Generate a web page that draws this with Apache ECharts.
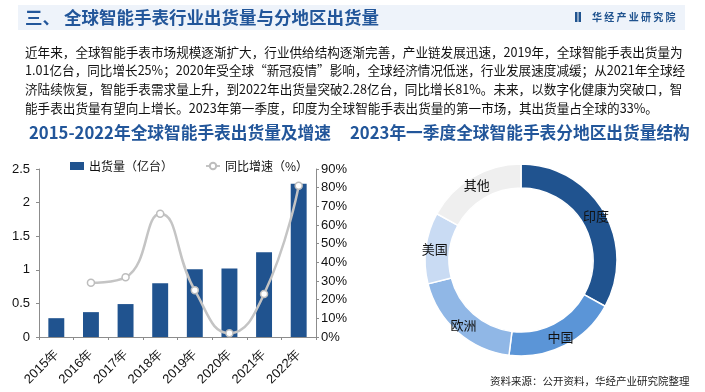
<!DOCTYPE html>
<html>
<head>
<meta charset="utf-8">
<script src="https://cdn.jsdelivr.net/npm/echarts@6/dist/echarts.min.js"></script>
<style>html,body{margin:0;padding:0;background:#fff;}#c{width:705px;height:392px;}</style>
</head>
<body>
<div id="c"></div>
<script>
// ---- data ----
const categories = ['2015年','2016年','2017年','2018年','2019年','2020年','2021年','2022年'];
const shipments = [0.28, 0.37, 0.49, 0.80, 1.01, 1.02, 1.26, 2.28];
const growth = [null, 29, 32, 66, 25, 2, 23, 81];
const regions = ['印度','中国','欧洲','美国','其他'];
const regionShares = [33, 19, 19, 12, 17];
const seriesNames = ['出货量（亿台）','同比增速（%）'];
const titleText = '三、 全球智能手表行业出货量与分地区出货量';
const brandText = '华 经 产 业 研 究 院';
const paragraph = [
  '近年来，全球智能手表市场规模逐渐扩大，行业供给结构逐渐完善，产业链发展迅速，2019年，全球智能手表出货量为',
  '1.01亿台，同比增长25%；2020年受全球“新冠疫情”影响，全球经济情况低迷，行业发展速度减缓；从2021年全球经',
  '济陆续恢复，智能手表需求量上升，到2022年出货量突破2.28亿台，同比增长81%。未来，以数字化健康为突破口，智',
  '能手表出货量有望向上增长。2023年第一季度，印度为全球智能手表出货量的第一市场，其出货量占全球的33%。'
];
const subTitleLeft = '2015-2022年全球智能手表出货量及增速';
const subTitleRight = '2023年一季度全球智能手表分地区出货量结构';
const sourceText = '资料来源：公开资料，华经产业研究院整理';

// ---- styles ----
const CJK = '"Noto Sans CJK SC", "Microsoft YaHei", sans-serif';
const LAT = '"Liberation Sans", Arial, sans-serif';
const barColor = '#20538f';
const pieColors = ['#20538f', '#5b95d7', '#90b7e6', '#c9dbf3', '#efefef'];
const axisGrey = '#8c8c8c';

const graphics = [
  { type: 'rect', shape: { x: 18, y: 5, width: 667, height: 25 }, style: { fill: '#eef3fa' }, z: 0 },
  { type: 'text', x: 25, y: 17.5, style: { text: titleText, font: 'bold 17.5px ' + CJK, fill: '#22569a', verticalAlign: 'middle' } },
  { type: 'rect', shape: { x: 575, y: 12, width: 2.5, height: 10 }, style: { fill: '#20538f' } },
  { type: 'rect', shape: { x: 578.5, y: 12, width: 2.5, height: 10 }, style: { fill: '#20538f' } },
  { type: 'text', x: 592, y: 17, style: { text: brandText, font: 'bold 10px ' + CJK, fill: '#20538f', verticalAlign: 'middle' } },
  { type: 'text', x: 29, y: 133, style: { text: subTitleLeft, font: 'bold 16.7px ' + CJK, fill: '#22569a', verticalAlign: 'middle' } },
  { type: 'text', x: 350, y: 133, style: { text: subTitleRight, font: 'bold 16.7px ' + CJK, fill: '#22569a', verticalAlign: 'middle' } },
  { type: 'text', x: 490, y: 381, style: { text: sourceText, font: '10.5px ' + CJK, fill: '#222', verticalAlign: 'middle' } }
];
paragraph.forEach((line, i) => {
  graphics.push({ type: 'text', x: 25, y: 52 + i * 18.7, style: { text: line, font: '12.6px ' + CJK, fill: '#111', verticalAlign: 'middle' } });
});

const chart = echarts.init(document.getElementById('c'), null, { renderer: 'canvas' });
chart.setOption({
  animation: false,
  backgroundColor: '#fff',
  graphic: graphics,
  legend: {
    left: 65, top: 155, itemWidth: 14, itemHeight: 8, itemGap: 32,
    textStyle: { fontSize: 12, fontFamily: CJK, color: '#111' },
    data: [
      { name: seriesNames[0], icon: 'rect' },
      { name: seriesNames[1] }
    ]
  },
  grid: { left: 39, right: 389, top: 169, bottom: 55 },
  xAxis: {
    type: 'category', data: categories, boundaryGap: true,
    axisLine: { lineStyle: { color: axisGrey } },
    axisTick: { show: true, length: 3, interval: 0, lineStyle: { color: axisGrey } },
    axisLabel: { rotate: 45, interval: 0, margin: 15, fontSize: 13, fontFamily: LAT, color: '#111' }
  },
  yAxis: [
    {
      type: 'value', min: 0, max: 2.5, interval: 0.5,
      axisLine: { show: true, lineStyle: { color: axisGrey } },
      axisTick: { show: true, length: 3, lineStyle: { color: axisGrey } },
      splitLine: { show: false },
      axisLabel: { fontSize: 13, fontFamily: LAT, color: '#111', margin: 9 }
    },
    {
      type: 'value', min: 0, max: 90, interval: 10, position: 'right',
      axisLine: { show: true, lineStyle: { color: axisGrey } },
      axisTick: { show: true, length: 3, lineStyle: { color: axisGrey } },
      splitLine: { show: false },
      axisLabel: { fontSize: 13, fontFamily: LAT, color: '#111', margin: 5, formatter: '{value}%' }
    }
  ],
  series: [
    {
      name: seriesNames[0], type: 'bar', data: shipments, barWidth: '46%',
      itemStyle: { color: barColor }, yAxisIndex: 0
    },
    {
      name: seriesNames[1], type: 'line', data: growth, yAxisIndex: 1, smooth: 0.5,
      symbol: 'circle', symbolSize: 7, showSymbol: true,
      lineStyle: { color: '#c4c4c4', width: 2.5 },
      itemStyle: { color: '#fff', borderColor: '#bdbdbd', borderWidth: 1.5 },
      z: 3
    },
    {
      name: 'pie', type: 'pie', center: [521, 260], radius: [72, 96],
      startAngle: 90, clockwise: true, silent: true,
      data: regions.map((r, i) => ({ name: r, value: regionShares[i], itemStyle: { color: pieColors[i] } })),
      itemStyle: { borderColor: '#fff', borderWidth: 1.5 },
      label: { position: 'inside', formatter: '{b}', fontSize: 13, fontFamily: CJK, color: '#111' },
      labelLine: { show: false },
      emphasis: { disabled: true }
    }
  ]
});
</script>
</body>
</html>
